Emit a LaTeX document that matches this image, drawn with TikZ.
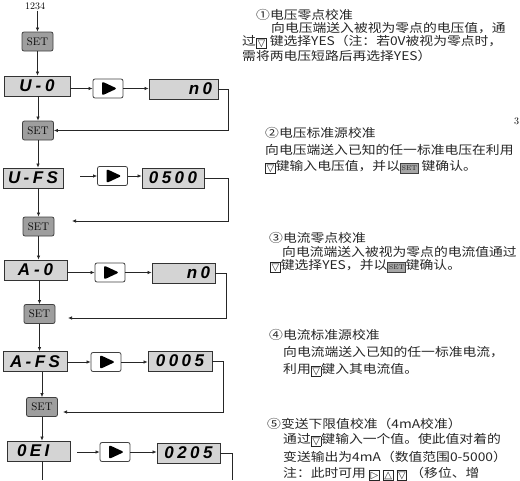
\documentclass[tikz,border=0pt]{standalone}
\usepackage{fontspec}
\usetikzlibrary{arrows.meta}
\newfontfamily\cjk[FakeStretch=1.15]{Noto Sans CJK SC}
\newfontfamily\symf{DejaVu Sans}
\newfontfamily\segf[LetterSpace=20]{Liberation Sans}
\setlength{\fboxsep}{0.6pt}
\setlength{\fboxrule}{0.9pt}
\newcommand\kdn{\raisebox{-1pt}{\fcolorbox{black!85}{white}{\symf\fontsize{10}{10}\selectfont ▽}}}
\newcommand\kup{\raisebox{-1pt}{\fcolorbox{black!85}{white}{\symf\fontsize{10}{10}\selectfont △}}}
\newcommand\krt{\raisebox{-1pt}{\fcolorbox{black!85}{white}{\symf\fontsize{10}{10}\selectfont ▷}}}
\newcommand\kset{\raisebox{-0.5pt}{\fcolorbox{black!75}{black!35}{\rule[-1.5pt]{0pt}{8pt}\rmfamily\fontsize{7}{7}\selectfont SET}}}
\begin{document}
\begin{tikzpicture}[x=1pt,y=-1pt,
  conn/.style={draw=black!85, line width=0.7pt},
  arr/.style={conn, -{Latex[length=4pt,width=3.5pt]}},
  setb/.style={draw=black!75, fill=black!38, rounded corners=2pt, line width=0.8pt, minimum width=31pt, minimum height=19pt, inner sep=0pt, font=\rmfamily\fontsize{11}{11}\selectfont},
  disp/.style={draw=black!80, fill=black!17, line width=0.8pt, minimum height=20pt, inner ysep=0pt, font=\segf\bfseries\itshape\fontsize{17}{17}\selectfont},
  play/.style={draw=black!75, fill=white, rounded corners=2pt, line width=0.8pt, minimum width=30pt, minimum height=19pt, inner sep=0pt,
    path picture={\fill[black] (path picture bounding box.center) ++(-6,-7) -- ++(15,7) -- ++(-15,7) -- cycle;}},
  txt/.style={anchor=west, inner sep=0pt, font=\cjk\fontsize{12}{12}\selectfont, text=black!85}
]
\useasboundingbox (0,0) rectangle (520,480);

% ---- left flow ----
\node[inner sep=1pt, font=\rmfamily\fontsize{10}{10}\selectfont] (t1234) at (35,6) {1234};
\node[setb] (set1) at (37.5,41.5) {SET};
\node[disp, text width=50pt, inner xsep=8pt, align=center] (d1) at (37,86) {U\hspace{4pt}-\hspace{4pt}0};
\node[play] (p1) at (108,88.5) {};
\node[disp, text width=57pt, inner xsep=6pt, align=right] (v1) at (183.5,89) {n0};
\node[setb] (set2) at (38,130.5) {SET};

\node[disp, text width=52pt, inner xsep=4pt, align=center] (d2) at (33,178) {U-FS};
\node[play] (p2) at (112.5,176) {};
\node[disp, text width=56pt, inner xsep=3pt, align=center] (v2) at (173,178) {0500};
\node[setb] (set3) at (38.5,226.5) {SET};

\node[disp, text width=51pt, inner xsep=6pt, align=center] (d3) at (35.5,270) {A\hspace{4pt}-\hspace{4pt}0};
\node[play] (p3) at (110,272.5) {};
\node[disp, text width=53pt, inner xsep=5pt, align=right] (v3) at (183.5,273) {n0};
\node[setb] (set4) at (39.5,314) {SET};

\node[disp, text width=56pt, inner xsep=4pt, align=center] (d4) at (35,361.5) {A-FS};
\node[play] (p4) at (106,362) {};
\node[disp, text width=58pt, inner xsep=3pt, align=center] (v4) at (180,361) {0005};
\node[setb] (set5) at (42,407) {SET};

\node[disp, text width=43pt, inner xsep=10pt, align=left] (d5) at (38.5,451) {0EI};
\node[play] (p5) at (115,452) {};
\node[disp, text width=57pt, inner xsep=3pt, align=center] (v5) at (188.5,453) {0205};

% connectors
\draw[arr] (t1234.south -| set1.north) -- (set1.north);
\draw[arr] (set1.south) -- (set1.south |- d1.north);
\draw[arr] (d1.east |- p1.west) -- (p1.west);
\draw[arr] (p1.east) -- (p1.east -| v1.west);
\draw[arr] (v1.east) -- ++(10,0) |- (set2.east);
\draw[arr] (d1.south -| set2.north) -- (set2.north);

\draw[arr] (set2.south) -- (set2.south |- d2.north);
\coordinate (s2) at (80,176);
\draw[arr] (s2) -- (p2.west);
\draw[arr] (p2.east) -- (p2.east -| v2.west);
\coordinate (e2) at (72,221);
\draw[arr] (v2.east) -- ++(24,0) |- (e2);
\draw[arr] (d2.south -| set3.north) -- (set3.north);

\draw[arr] (set3.south) -- (set3.south |- d3.north);
\draw[arr] (d3.east |- p3.west) -- (p3.west);
\draw[arr] (p3.east) -- (p3.east -| v3.west);
\coordinate (e3) at (68,318);
\draw[arr] (v3.east) -- ++(11,0) |- (e3);
\draw[arr] (d3.south -| set4.north) -- (set4.north);

\draw[arr] (set4.south) -- (set4.south |- d4.north);
\draw[arr] (d4.east |- p4.west) -- (p4.west);
\draw[arr] (p4.east) -- (p4.east -| v4.west);
\coordinate (e4) at (63,412);
\draw[arr] (v4.east) -- ++(11,0) |- (e4);
\draw[arr] (d4.south -| set5.north) -- (set5.north);

\draw[arr] (set5.south) -- (set5.south |- d5.north);
\coordinate (s5) at (77,452);
\draw[arr] (s5) -- (p5.west);
\draw[arr] (p5.east) -- (p5.east -| v5.west);
\coordinate (bot1) at (42,480);
\draw[conn] (d5.south -| bot1) -- (bot1);
\coordinate (bot2) at (232,480);
\draw[conn] (v5.east) -- (v5.east -| bot2) -- (bot2);

% ---- right text ----
\node[txt] (a1) at (256,15) {①电压零点校准};
\node[txt] (a2) at (271,28) {向电压端送入被视为零点的电压值，通};
\node[txt] (a3) at (242,42) {过\kdn{} 键选择YES（注：若0V被视为零点时，};
\node[txt] (a4) at (242,56) {需将两电压短路后再选择YES）};

\node[anchor=west, inner sep=0pt, font=\rmfamily\fontsize{10}{10}\selectfont] (pg) at (514,121) {3};
\node[txt] (b1) at (265,133) {②电压标准源校准};
\node[txt] (b2) at (265,150) {向电压端送入已知的任一标准电压在利用};
\node[txt] (b3) at (265,167) {\kdn{}键输入电压值，并以\kset{} 键确认。};

\node[txt] (c1) at (269,238) {③电流零点校准};
\node[txt] (c2) at (282,252) {向电流端送入被视为零点的电流值通过};
\node[txt] (c3) at (270,266) {\kdn{}键选择YES，并以\kset{}键确认。};

\node[txt] (f1) at (269,335) {④电流标准源校准};
\node[txt] (f2) at (283,352) {向电流端送入已知的任一标准电流，};
\node[txt] (f3) at (283,370) {利用\kdn{}键入其电流值。};

\node[txt] (g1) at (267,424) {⑤变送下限值校准（4mA校准）};
\node[txt] (g2) at (283,440) {通过\kdn{}键输入一个值。使此值对着的};
\node[txt] (g3) at (283,457) {变送输出为4mA（数值范围0-5000）};
\node[txt] (g4) at (283,474) {注：此时可用 \krt{} \kup{} \kdn{} （移位、增};
\end{tikzpicture}
\end{document}
